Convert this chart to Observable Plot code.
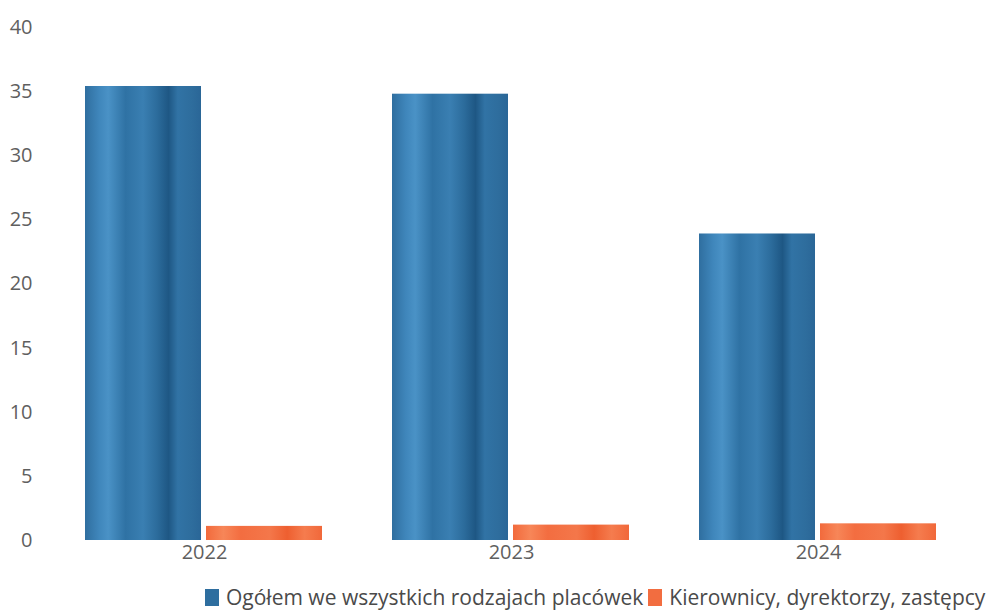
<!DOCTYPE html>
<html>
<head>
<meta charset="utf-8">
<script src="https://cdn.jsdelivr.net/npm/d3@7"></script>
<script src="https://cdn.jsdelivr.net/npm/@observablehq/plot@0.6"></script>
<style>
  html, body { margin: 0; padding: 0; background: #ffffff; }
  #chart { width: 1001px; height: 614px; position: relative; font-family: "Open Sans", sans-serif; }
  .legend { display: flex; align-items: center; height: 34px; padding-left: 205px; font-size: 21px; color: #4a4a4a; white-space: nowrap; }
  .legend .sw { display: inline-block; width: 14px; height: 17px; margin-right: 7px; }
  .legend .item { display: inline-flex; align-items: center; margin-right: 5px; }
</style>
</head>
<body>
<div id="chart"></div>
<script>
const years = ["2022", "2023", "2024"];
const seriesNames = ["Ogółem we wszystkich rodzajach placówek", "Kierownicy, dyrektorzy, zastępcy"];
const ogolem = [35.4, 34.8, 23.9];
const kierownicy = [1.1, 1.2, 1.3];
const yTicks = [0, 5, 10, 15, 20, 25, 30, 35, 40];

const rows = [];
years.forEach((y, i) => {
  rows.push({year: y, series: seriesNames[0], value: ogolem[i]});
  rows.push({year: y, series: seriesNames[1], value: kierownicy[i]});
});

const chart = Plot.plot({
  width: 1001,
  height: 580,
  marginTop: 27,
  marginBottom: 40,
  marginLeft: 50,
  marginRight: 29,
  style: {fontFamily: "Open Sans, sans-serif", fontSize: "20px", color: "#5f5f5f"},
  fx: {domain: years, paddingInner: 0.225, paddingOuter: 0.114, label: null},
  x: {domain: seriesNames, paddingInner: 0.04, paddingOuter: 0, axis: null},
  y: {domain: [0, 40], label: null},
  marks: [
    Plot.axisY({ticks: yTicks, tickSize: 0, tickPadding: 53, label: null, fill: "#5f5f5f", fontSize: 20}),
    Plot.axisFx({anchor: "bottom", tickSize: 0, tickPadding: 4, label: null, fill: "#5f5f5f", fontSize: 20}),
    Plot.barY(rows.filter(d => d.series === seriesNames[0]), {fx: "year", x: "series", y: "value", fill: "url(#gblue)"}),
    Plot.barY(rows.filter(d => d.series === seriesNames[1]), {fx: "year", x: "series", y: "value", fill: "url(#gorange)"})
  ]
});

const ns = "http://www.w3.org/2000/svg";
const defs = document.createElementNS(ns, "defs");
function addGrad(id, stops) {
  const g = document.createElementNS(ns, "linearGradient");
  g.setAttribute("id", id);
  g.setAttribute("x1", "0"); g.setAttribute("x2", "1");
  g.setAttribute("y1", "0"); g.setAttribute("y2", "0");
  stops.forEach(([o, c]) => {
    const s = document.createElementNS(ns, "stop");
    s.setAttribute("offset", o);
    s.setAttribute("stop-color", c);
    g.appendChild(s);
  });
  defs.appendChild(g);
}
addGrad("gblue", [[0, "#2f6e9f"], [0.12, "#3f86bb"], [0.2, "#4a92c6"], [0.35, "#2f72a4"], [0.5, "#3a7fb2"], [0.62, "#2c6c9c"], [0.72, "#1e5784"], [0.8, "#3173a5"], [0.92, "#2e6d9d"], [1, "#2a6697"]]);
addGrad("gorange", [[0, "#f26a3c"], [0.15, "#f78658"], [0.3, "#f36d40"], [0.55, "#f4774a"], [0.7, "#ee5f30"], [0.85, "#f57c4e"], [1, "#f1683a"]]);
chart.insertBefore(defs, chart.firstChild);

const root = document.getElementById("chart");
root.appendChild(chart);

const legend = document.createElement("div");
legend.className = "legend";
const sw = [["#2e6e9f", seriesNames[0]], ["#f26d40", seriesNames[1]]];
sw.forEach(([c, t]) => {
  const item = document.createElement("span");
  item.className = "item";
  const s = document.createElement("span");
  s.className = "sw";
  s.style.background = c;
  const l = document.createElement("span");
  l.textContent = t;
  item.appendChild(s);
  item.appendChild(l);
  legend.appendChild(item);
});
root.appendChild(legend);
</script>
</body>
</html>
